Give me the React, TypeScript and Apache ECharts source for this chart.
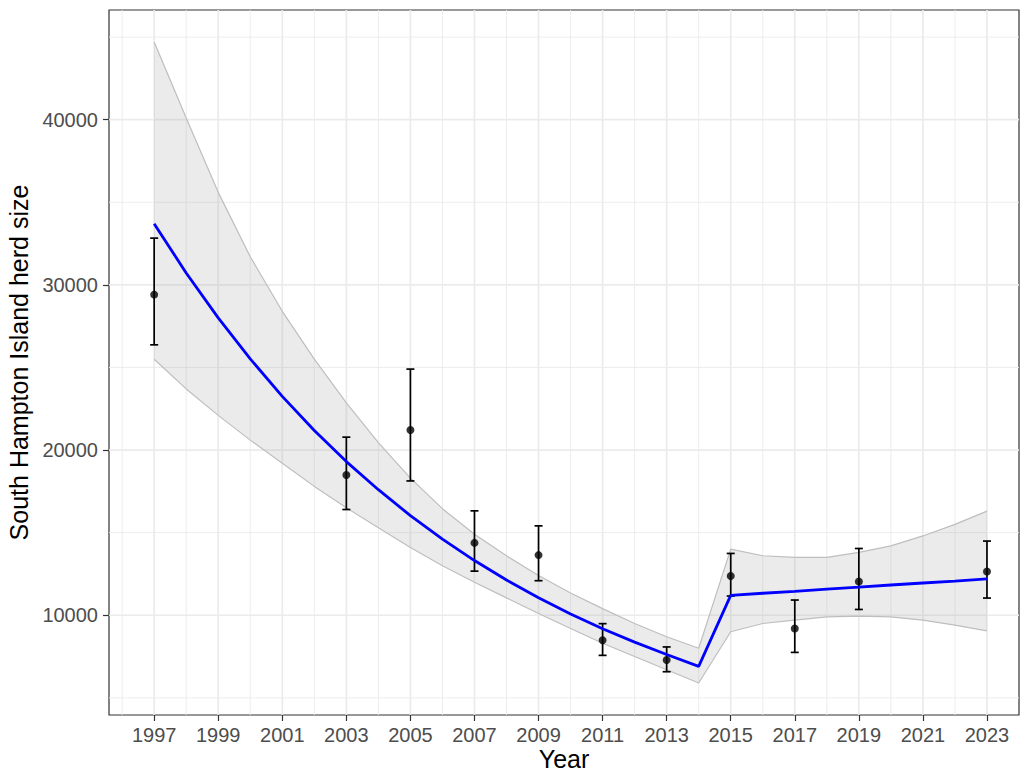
import React, { useEffect, useRef } from "react";
import * as echarts from "echarts";

const years = [1997, 1998, 1999, 2000, 2001, 2002, 2003, 2004, 2005, 2006, 2007, 2008, 2009, 2010, 2011, 2012, 2013, 2014, 2015, 2016, 2017, 2018, 2019, 2020, 2021, 2022, 2023];
const fitValues = [33700, 30720, 28000, 25520, 23250, 21180, 19300, 17600, 16030, 14610, 13310, 12130, 11060, 10080, 9180, 8370, 7620, 6900, 11200, 11330, 11450, 11580, 11700, 11830, 11950, 12070, 12200];
const upperValues = [44700, 40100, 35600, 31700, 28400, 25500, 22850, 20450, 18300, 16450, 14900, 13600, 12400, 11350, 10400, 9500, 8700, 8000, 14000, 13600, 13500, 13500, 13800, 14200, 14800, 15500, 16300];
const lowerValues = [25500, 23700, 22100, 20600, 19200, 17800, 16500, 15300, 14100, 13000, 12000, 11050, 10100, 9200, 8300, 7500, 6700, 5900, 9000, 9500, 9700, 9900, 9950, 9900, 9700, 9400, 9050];

const surveyYears = [1997, 2003, 2005, 2007, 2009, 2011, 2013, 2015, 2017, 2019, 2023];
const estimates = [29410, 18490, 21210, 14380, 13640, 8480, 7290, 12370, 9200, 12040, 12650];
const lowerCI = [26370, 16400, 18130, 12670, 12090, 7570, 6580, 11160, 7750, 10350, 11040];
const upperCI = [32830, 20780, 24900, 16320, 15410, 9490, 8080, 13740, 10920, 14040, 14490];

const xTickLabels = [1997, 1999, 2001, 2003, 2005, 2007, 2009, 2011, 2013, 2015, 2017, 2019, 2021, 2023];
const xMinorGrid = [1996, 1998, 2000, 2002, 2004, 2006, 2008, 2010, 2012, 2014, 2016, 2018, 2020, 2022];
const yTickLabels = [10000, 20000, 30000, 40000];
const yMinorGrid = [5000, 15000, 25000, 35000, 45000];

const X_MIN = 1995.59;
const X_MAX = 2024.0;
const Y_MIN = 3960;
const Y_MAX = 46640;

const FONT = "'Liberation Sans', Arial, Helvetica, sans-serif";

export default function App() {
  const ref = useRef<HTMLDivElement>(null);

  useEffect(() => {
    if (!ref.current) return;
    const chart = echarts.init(ref.current, undefined, { renderer: "svg" });

    const vGrid = (vals: number[], width: number) => ({
      type: "custom",
      z: 1,
      silent: true,
      data: vals.map((v) => [v, Y_MIN]),
      renderItem: (params: any, api: any) => {
        const p = api.coord([api.value(0), api.value(1)]);
        const cs = params.coordSys;
        return {
          type: "line",
          shape: { x1: p[0], y1: cs.y, x2: p[0], y2: cs.y + cs.height },
          style: { stroke: "#EBEBEB", lineWidth: width },
        };
      },
    });
    const hGrid = (vals: number[], width: number) => ({
      type: "custom",
      z: 1,
      silent: true,
      data: vals.map((v) => [X_MIN, v]),
      renderItem: (params: any, api: any) => {
        const p = api.coord([api.value(0), api.value(1)]);
        const cs = params.coordSys;
        return {
          type: "line",
          shape: { x1: cs.x, y1: p[1], x2: cs.x + cs.width, y2: p[1] },
          style: { stroke: "#EBEBEB", lineWidth: width },
        };
      },
    });

    const option: any = {
      animation: false,
      backgroundColor: "#FFFFFF",
      grid: {
        left: 109,
        top: 10,
        width: 910,
        height: 705,
        containLabel: false,
        outerBoundsMode: "none",
        show: true,
        borderColor: "#333333",
        borderWidth: 1.2,
        backgroundColor: "transparent",
      },
      xAxis: {
        type: "value",
        min: X_MIN,
        max: X_MAX,
        name: "Year",
        nameLocation: "middle",
        nameGap: 31,
        nameMoveOverlap: false,
        nameTextStyle: { fontSize: 25, lineHeight: 25, color: "#000000", fontFamily: FONT },
        axisLine: { show: false },
        splitLine: { show: false },
        axisTick: {
          show: true,
          customValues: xTickLabels,
          length: 6,
          lineStyle: { color: "#333333", width: 1.2 },
        },
        axisLabel: {
          customValues: xTickLabels,
          fontSize: 20,
          color: "#4D4D4D",
          fontFamily: FONT,
          margin: 10,
          formatter: (v: number) => String(v),
        },
      },
      yAxis: {
        type: "value",
        min: Y_MIN,
        max: Y_MAX,
        name: "South Hampton Island herd size",
        nameLocation: "middle",
        nameGap: 76,
        nameTextStyle: { fontSize: 25, color: "#000000", fontFamily: FONT },
        axisLine: { show: false },
        splitLine: { show: false },
        axisTick: {
          show: true,
          customValues: yTickLabels,
          length: 6,
          lineStyle: { color: "#333333", width: 1.2 },
        },
        axisLabel: {
          customValues: yTickLabels,
          fontSize: 20,
          color: "#4D4D4D",
          fontFamily: FONT,
          margin: 11,
          formatter: (v: number) => String(v),
        },
      },
      series: [
        vGrid(xMinorGrid, 0.9),
        vGrid(xTickLabels, 1.7),
        hGrid(yMinorGrid, 0.9),
        hGrid(yTickLabels, 1.7),
        {
          type: "custom",
          name: "ribbon",
          z: 2,
          silent: true,
          data: [[years[0], upperValues[0]]],
          renderItem: (params: any, api: any) => {
            const pts: number[][] = [];
            for (let i = 0; i < years.length; i++) pts.push(api.coord([years[i], upperValues[i]]));
            for (let i = years.length - 1; i >= 0; i--) pts.push(api.coord([years[i], lowerValues[i]]));
            return {
              type: "polygon",
              shape: { points: pts },
              style: { fill: "rgba(153,153,153,0.2)", stroke: "none" },
            };
          },
        },
        {
          type: "line",
          name: "upper",
          z: 3,
          silent: true,
          data: years.map((y, i) => [y, upperValues[i]]),
          showSymbol: false,
          lineStyle: { color: "#BEBEBE", width: 1.2 },
        },
        {
          type: "line",
          name: "lower",
          z: 3,
          silent: true,
          data: years.map((y, i) => [y, lowerValues[i]]),
          showSymbol: false,
          lineStyle: { color: "#BEBEBE", width: 1.2 },
        },
        {
          type: "custom",
          name: "errorbars",
          z: 4,
          data: surveyYears.map((y, i) => [y, lowerCI[i], upperCI[i]]),
          renderItem: (params: any, api: any) => {
            const x = api.value(0);
            const lo = api.coord([x, api.value(1)]);
            const hi = api.coord([x, api.value(2)]);
            const hw = 4;
            const st = { stroke: "#000000", lineWidth: 1.7 };
            return {
              type: "group",
              children: [
                { type: "line", shape: { x1: lo[0], y1: lo[1], x2: hi[0], y2: hi[1] }, style: st },
                { type: "line", shape: { x1: lo[0] - hw, y1: lo[1], x2: lo[0] + hw, y2: lo[1] }, style: st },
                { type: "line", shape: { x1: hi[0] - hw, y1: hi[1], x2: hi[0] + hw, y2: hi[1] }, style: st },
              ],
            };
          },
        },
        {
          type: "scatter",
          name: "estimates",
          z: 5,
          data: surveyYears.map((y, i) => [y, estimates[i]]),
          symbol: "circle",
          symbolSize: 8,
          itemStyle: { color: "#000000" },
        },
        {
          type: "line",
          name: "fit",
          z: 6,
          data: years.map((y, i) => [y, fitValues[i]]),
          showSymbol: false,
          lineStyle: { color: "#0000FF", width: 2.8 },
        },
      ],
    };

    chart.setOption(option);
    return () => chart.dispose();
  }, []);

  return (
    <div
      ref={ref}
      style={{ position: "fixed", left: 0, top: 0, width: 1021, height: 773, background: "#FFFFFF" }}
    />
  );
}
